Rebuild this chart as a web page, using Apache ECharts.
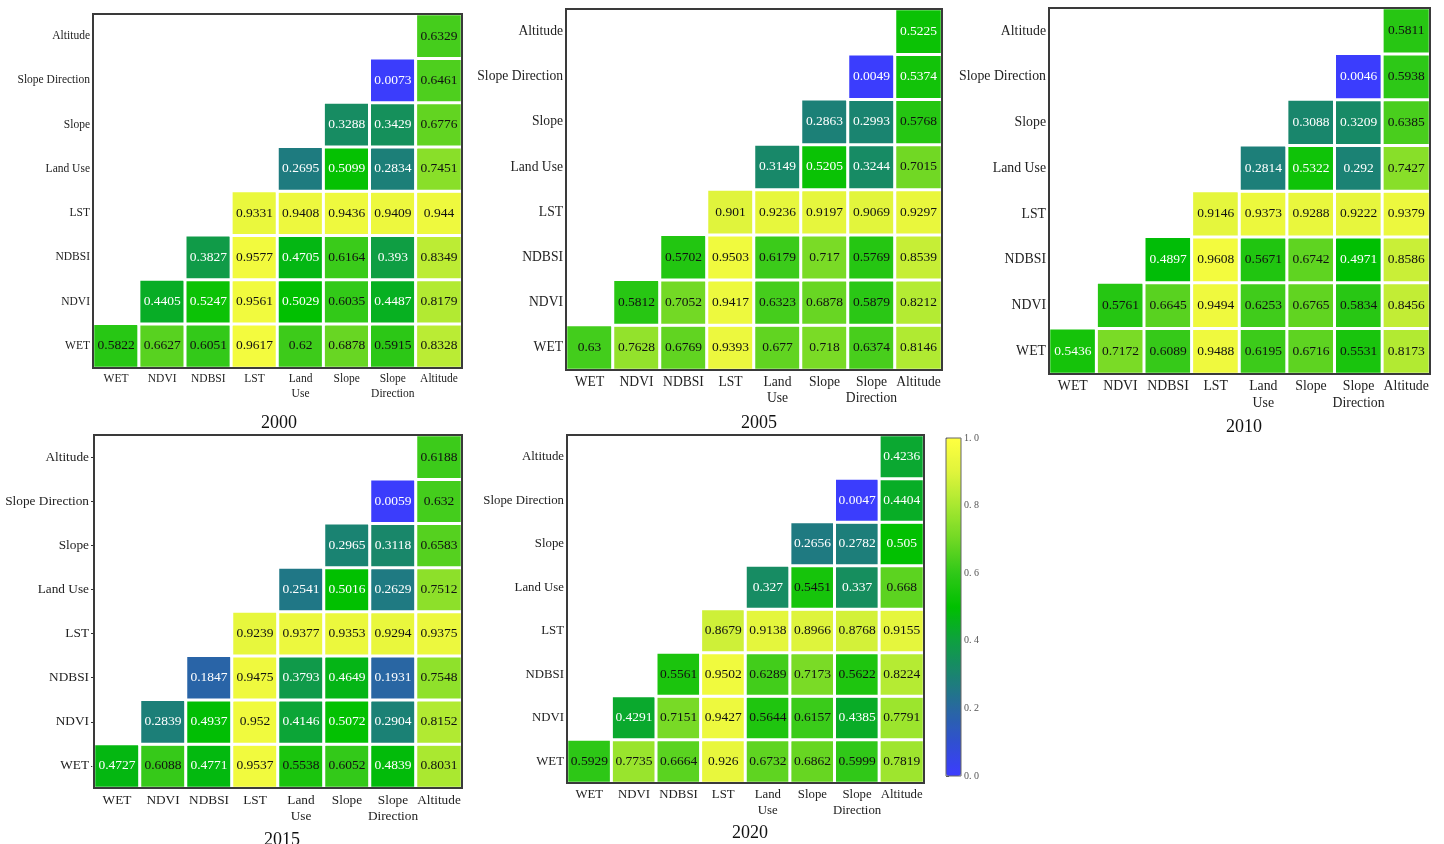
<!DOCTYPE html>
<html>
<head>
<meta charset="utf-8">
<script src="https://cdn.jsdelivr.net/npm/echarts@6/dist/echarts.min.js"></script>
<style>
  html, body { margin: 0; padding: 0; background: #fff; }
  #chart { width: 1444px; height: 844px; }
</style>
</head>
<body>
<div id="chart"></div>
<script>
// factors, bottom row first on the y axis, left to right on the x axis
const factors = ['WET', 'NDVI', 'NDBSI', 'LST', 'Land Use', 'Slope', 'Slope Direction', 'Altitude'];
const years = ['2000', '2005', '2010', '2015', '2020'];

// each row j holds the values for columns j..7 (lower triangle)
const rows2000 = [
  [0.5822, 0.6627, 0.6051, 0.9617, 0.62, 0.6878, 0.5915, 0.8328],
  [0.4405, 0.5247, 0.9561, 0.5029, 0.6035, 0.4487, 0.8179],
  [0.3827, 0.9577, 0.4705, 0.6164, 0.393, 0.8349],
  [0.9331, 0.9408, 0.9436, 0.9409, 0.944],
  [0.2695, 0.5099, 0.2834, 0.7451],
  [0.3288, 0.3429, 0.6776],
  [0.0073, 0.6461],
  [0.6329]
];
const rows2005 = [
  [0.63, 0.7628, 0.6769, 0.9393, 0.677, 0.718, 0.6374, 0.8146],
  [0.5812, 0.7052, 0.9417, 0.6323, 0.6878, 0.5879, 0.8212],
  [0.5702, 0.9503, 0.6179, 0.717, 0.5769, 0.8539],
  [0.901, 0.9236, 0.9197, 0.9069, 0.9297],
  [0.3149, 0.5205, 0.3244, 0.7015],
  [0.2863, 0.2993, 0.5768],
  [0.0049, 0.5374],
  [0.5225]
];
const rows2010 = [
  [0.5436, 0.7172, 0.6089, 0.9488, 0.6195, 0.6716, 0.5531, 0.8173],
  [0.5761, 0.6645, 0.9494, 0.6253, 0.6765, 0.5834, 0.8456],
  [0.4897, 0.9608, 0.5671, 0.6742, 0.4971, 0.8586],
  [0.9146, 0.9373, 0.9288, 0.9222, 0.9379],
  [0.2814, 0.5322, 0.292, 0.7427],
  [0.3088, 0.3209, 0.6385],
  [0.0046, 0.5938],
  [0.5811]
];
const rows2015 = [
  [0.4727, 0.6088, 0.4771, 0.9537, 0.5538, 0.6052, 0.4839, 0.8031],
  [0.2839, 0.4937, 0.952, 0.4146, 0.5072, 0.2904, 0.8152],
  [0.1847, 0.9475, 0.3793, 0.4649, 0.1931, 0.7548],
  [0.9239, 0.9377, 0.9353, 0.9294, 0.9375],
  [0.2541, 0.5016, 0.2629, 0.7512],
  [0.2965, 0.3118, 0.6583],
  [0.0059, 0.632],
  [0.6188]
];
const rows2020 = [
  [0.5929, 0.7735, 0.6664, 0.926, 0.6732, 0.6862, 0.5999, 0.7819],
  [0.4291, 0.7151, 0.9427, 0.5644, 0.6157, 0.4385, 0.7791],
  [0.5561, 0.9502, 0.6289, 0.7173, 0.5622, 0.8224],
  [0.8679, 0.9138, 0.8966, 0.8768, 0.9155],
  [0.327, 0.5451, 0.337, 0.668],
  [0.2656, 0.2782, 0.505],
  [0.0047, 0.4404],
  [0.4236]
];
const allRows = [rows2000, rows2005, rows2010, rows2015, rows2020];

const colorbarTicks = [0, 0.2, 0.4, 0.6, 0.8, 1.0];

const panels = [
  { left: 93, top: 14, width: 369, height: 354, font: 11.5, titleX: 274, titleY: 409, ticks: false },
  { left: 566, top: 9, width: 376, height: 361, font: 13.6, titleX: 754, titleY: 409, ticks: false },
  { left: 1049, top: 8, width: 381, height: 366, font: 13.8, titleX: 1239, titleY: 413, ticks: false },
  { left: 94, top: 435, width: 368, height: 353, font: 13.3, titleX: 277, titleY: 826, ticks: true },
  { left: 567, top: 435, width: 357, height: 348, font: 12.8, titleX: 745, titleY: 819, ticks: false }
];

const serif = '"Liberation Serif", "DejaVu Serif", serif';

function toCells(rows) {
  const out = [];
  rows.forEach((row, j) => {
    row.forEach((v, k) => {
      out.push({
        value: [j + k, j, v],
        label: { color: v < 0.545 ? '#ffffff' : '#111111' }
      });
    });
  });
  return out;
}

const chart = echarts.init(document.getElementById('chart'));

const grid = [];
const xAxis = [];
const yAxis = [];
const series = [];
const title = [];
const frames = [];

panels.forEach((p, i) => {
  grid.push({ left: p.left, top: p.top, width: p.width, height: p.height, show: false });
  frames.push({
    type: 'rect', z: 100, silent: true,
    shape: { x: p.left, y: p.top, width: p.width, height: p.height },
    style: { fill: null, stroke: '#3a3a3a', lineWidth: 2 }
  });
  xAxis.push({
    type: 'category', gridIndex: i, data: factors,
    axisLine: { show: false }, axisTick: { show: false }, splitLine: { show: false },
    axisLabel: {
      interval: 0, margin: 4, fontFamily: serif, fontSize: p.font, color: '#222', lineHeight: p.font + 3,
      formatter: s => s.replace(' ', '\n')
    }
  });
  yAxis.push({
    type: 'category', gridIndex: i, data: factors,
    axisLine: { show: false },
    axisTick: { show: p.ticks, alignWithLabel: true, length: 3, lineStyle: { color: '#333' } },
    splitLine: { show: false },
    axisLabel: { interval: 0, margin: p.ticks ? 5 : 3, fontFamily: serif, fontSize: p.font, color: '#222' }
  });
  series.push({
    type: 'heatmap', xAxisIndex: i, yAxisIndex: i,
    data: toCells(allRows[i]),
    itemStyle: { borderColor: '#ffffff', borderWidth: 3 },
    label: {
      show: true, fontFamily: serif, fontSize: 13.5,
      formatter: prm => String(prm.value[2])
    },
    emphasis: { disabled: true }
  });
  title.push({
    text: years[i], left: p.titleX, top: p.titleY, textAlign: 'center',
    textStyle: { fontFamily: serif, fontSize: 18, fontWeight: 'normal', color: '#111' }
  });
});

// colour bar axis beside the legend bar
grid.push({ left: 946, top: 438, width: 15, height: 338, show: false });
xAxis.push({ type: 'value', gridIndex: 5, show: false, min: 0, max: 1 });
yAxis.push({
  type: 'value', gridIndex: 5, position: 'right', min: 0, max: 1, interval: 0.2,
  axisLine: { show: false }, splitLine: { show: false },
  axisTick: { show: true, length: 3, lineStyle: { color: '#555' } },
  axisLabel: {
    margin: 3, fontFamily: serif, fontSize: 10, color: '#555',
    formatter: v => colorbarTicks.indexOf(v) >= 0 ? v.toFixed(1).replace('.', '. ') : ''
  }
});
frames.push({
  type: 'rect', z: 100, silent: true,
  shape: { x: 946, y: 438, width: 15, height: 338 },
  style: { fill: null, stroke: '#666', lineWidth: 1 }
});

chart.setOption({
  animation: false,
  backgroundColor: '#ffffff',
  title: title,
  grid: grid,
  xAxis: xAxis,
  yAxis: yAxis,
  graphic: frames,
  visualMap: {
    type: 'continuous', min: 0, max: 1,
    seriesIndex: [0, 1, 2, 3, 4],
    calculable: false, hoverLink: false,
    left: 946, top: 438, itemWidth: 15, itemHeight: 338,
    padding: 0, text: null, showLabel: false,
    inRange: {
      color: ['#3c3cff', '#3050d0', '#2868a0', '#1a8470', '#0ea040', '#00c000',
              '#30c818', '#70d824', '#a8e830', '#e0f43c', '#ffff40']
    }
  },
  series: series
});
</script>
</body>
</html>
